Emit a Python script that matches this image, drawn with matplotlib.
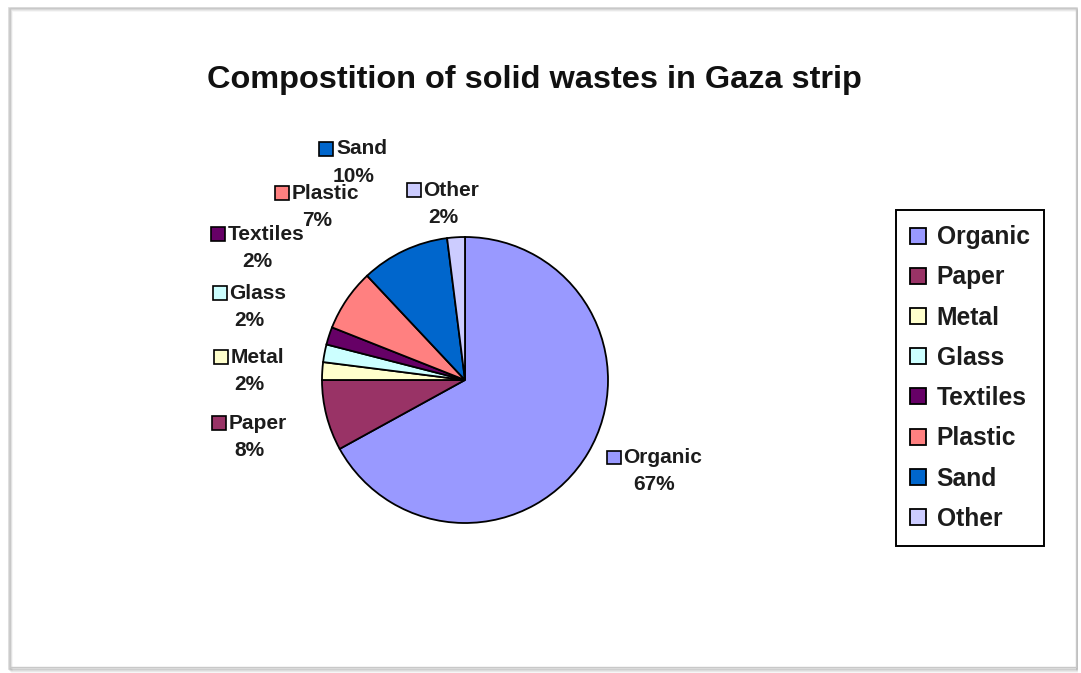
import numpy as np
import matplotlib
matplotlib.use("Agg")
import matplotlib.pyplot as plt
from matplotlib.patches import Rectangle
from matplotlib.offsetbox import DrawingArea, TextArea, HPacker, VPacker, AnnotationBbox

plt.rcParams['font.family'] = ['Liberation Sans', 'DejaVu Sans']

categories = ['Organic', 'Paper', 'Metal', 'Glass', 'Textiles', 'Plastic', 'Sand', 'Other']
shares = [67, 8, 2, 2, 2, 7, 10, 2]
colors = ['#9999FF', '#993366', '#FFFFCC', '#CCFFFF', '#660066', '#FF8080', '#0066CC', '#CCCCFF']
title = 'Compostition of solid wastes in Gaza strip'

# where each data label sits: radius (pie = 1) and angle shift from the wedge middle
label_dist = [1.47, 1.56, 1.51, 1.59, 1.72, 1.59, 1.71, 1.24]
label_shift = [4.9, 0.4, 1.2, -8.0, -14.5, -15.3, 2.0, 3.5]

W, H = 1081, 673
fig = plt.figure(figsize=(W / 100, H / 100), dpi=100)
fig.patch.set_facecolor('white')

# page frame with a soft shadow
for i, a in enumerate([0.30, 0.20, 0.14, 0.08]):
    fig.patches.append(Rectangle(((9 + i) / W, (4 - i) / H), (1068 - i) / W, 661 / H,
                                 transform=fig.transFigure, fill=False,
                                 ec='#808080', lw=1.2, alpha=a, zorder=-5))
fig.patches.append(Rectangle((10 / W, 6 / H), 1066 / W, 659 / H, transform=fig.transFigure,
                             fill=False, ec='#c8c8c8', lw=1.0, zorder=-4))

cx, cy, r = 465, 380, 143
ax = fig.add_axes([(cx - r) / W, (H - cy - r) / H, 2 * r / W, 2 * r / H])

wedges, _ = ax.pie(shares, colors=colors, startangle=90, counterclock=False, radius=1,
                   wedgeprops=dict(edgecolor='black', linewidth=1.3))
ax.set_xlim(-1, 1)
ax.set_ylim(-1, 1)
ax.axis('off')

txt = dict(fontsize=15, fontweight='bold', color='#1c1c1c')
for w, name, val, col, d, s in zip(wedges, categories, shares, colors, label_dist, label_shift):
    ang = np.deg2rad((w.theta1 + w.theta2) / 2 + s)
    sq = DrawingArea(10, 10, 0, 0)
    sq.add_artist(Rectangle((0, 0), 10, 10, fc=col, ec='black', lw=1.2))
    row = HPacker(children=[sq, TextArea(name, textprops=txt)], align='center', pad=0, sep=2)
    box = VPacker(children=[row, TextArea(f'{val}%', textprops=txt)], align='center', pad=0, sep=6)
    ab = AnnotationBbox(box, (d * np.cos(ang), d * np.sin(ang)), xycoords='data',
                        frameon=False, box_alignment=(0.5, 0.5), annotation_clip=False)
    ax.add_artist(ab)

fig.text(534 / W, 1 - 80 / H, title, ha='center', va='center',
         fontsize=23.4, fontweight='bold', color='#111111')

leg = fig.legend(wedges, categories, loc='center', bbox_to_anchor=(970 / W, 1 - 378 / H),
                 prop=dict(weight='bold', size=17.7), frameon=True, fancybox=False,
                 edgecolor='black', framealpha=1, handlelength=0.62, handleheight=0.62,
                 handletextpad=0.45, labelspacing=0.66, borderpad=0.6)
leg.get_frame().set_linewidth(1.4)
for t in leg.get_texts():
    t.set_color('#1c1c1c')

fig.savefig('out.png', dpi=100)
